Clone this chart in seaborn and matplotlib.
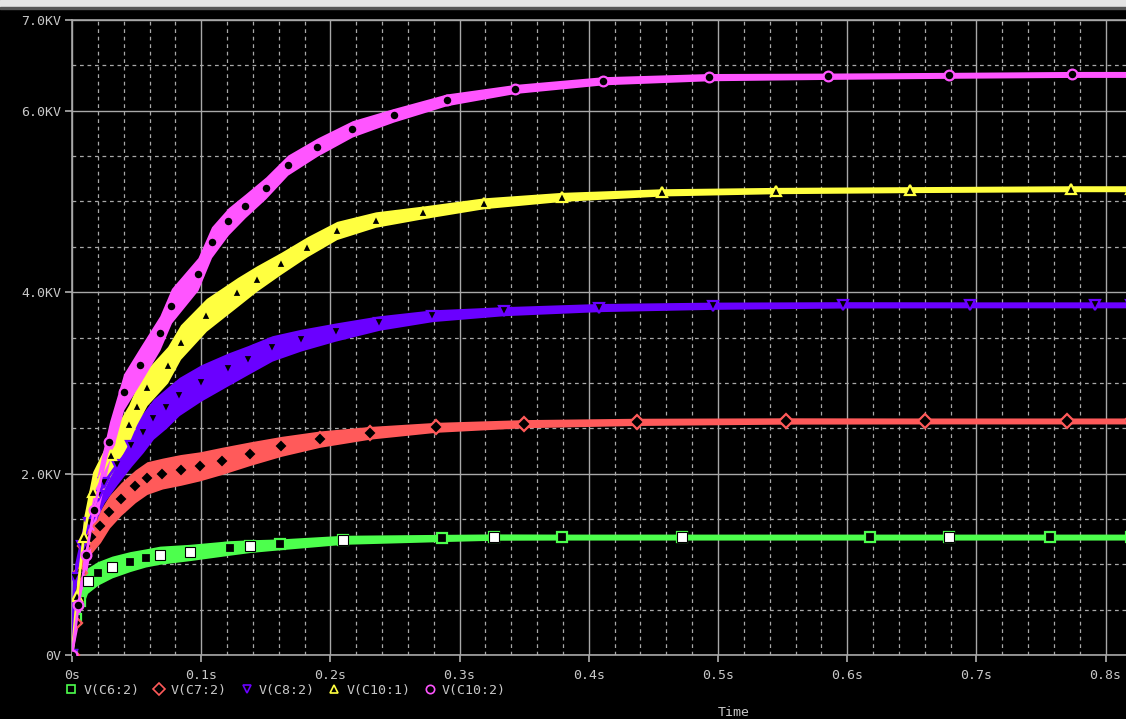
import numpy as np
import matplotlib
matplotlib.use("Agg")
import matplotlib.pyplot as plt
from matplotlib.lines import Line2D
from matplotlib.patches import Rectangle
import seaborn as sns

# --- data (time in s, voltage in kV) ---
labels = ["V(C6:2)", "V(C7:2)", "V(C8:2)", "V(C10:1)", "V(C10:2)"]

t_c6 = [0, 0.003, 0.006, 0.012, 0.02, 0.031, 0.045, 0.057, 0.068, 0.091, 0.122,
        0.138, 0.161, 0.21, 0.286, 0.327, 0.379, 0.472, 0.618, 0.679, 0.757, 0.82]
v_c6 = [0, 0.4, 0.6, 0.82, 0.9, 0.97, 1.03, 1.07, 1.1, 1.13, 1.18,
        1.2, 1.22, 1.27, 1.29, 1.3, 1.3, 1.3, 1.3, 1.3, 1.3, 1.3]
w_c6 = [0.02, 0.12, 0.14, 0.14, 0.13, 0.12, 0.11, 0.1, 0.1, 0.09, 0.08,
        0.07, 0.06, 0.05, 0.04, 0.035, 0.033, 0.033, 0.033, 0.033, 0.033, 0.033]
white_c6 = [0, 0, 0, 1, 0, 1, 0, 0, 1, 1, 0, 1, 0, 1, 0, 1, 0, 1, 0, 1, 0, 0]

t_c7 = [0, 0.002, 0.006, 0.01, 0.015, 0.022, 0.029, 0.038, 0.049, 0.058, 0.07,
        0.084, 0.099, 0.116, 0.138, 0.162, 0.192, 0.231, 0.282, 0.35, 0.437,
        0.553, 0.66, 0.77, 0.82]
v_c7 = [0, 0.35, 0.9, 1.2, 1.3, 1.42, 1.58, 1.72, 1.86, 1.95, 2.0,
        2.04, 2.08, 2.14, 2.22, 2.3, 2.38, 2.45, 2.51, 2.55, 2.57,
        2.58, 2.58, 2.58, 2.58]
w_c7 = [0.02, 0.1, 0.15, 0.17, 0.18, 0.18, 0.18, 0.18, 0.18, 0.18, 0.17,
        0.17, 0.16, 0.15, 0.13, 0.11, 0.09, 0.07, 0.055, 0.045, 0.04,
        0.035, 0.033, 0.033, 0.033]

t_c8 = [0, 0.002, 0.008, 0.013, 0.02, 0.025, 0.035, 0.046, 0.055, 0.063, 0.073,
        0.083, 0.1, 0.121, 0.136, 0.155, 0.177, 0.204, 0.238, 0.279, 0.334,
        0.408, 0.496, 0.597, 0.695, 0.792, 0.82]
v_c8 = [0, 0.85, 1.2, 1.45, 1.75, 1.9, 2.1, 2.3, 2.45, 2.6, 2.72,
        2.85, 3.0, 3.15, 3.25, 3.38, 3.47, 3.56, 3.66, 3.74, 3.79,
        3.83, 3.85, 3.86, 3.86, 3.86, 3.86]
w_c8 = [0.02, 0.15, 0.2, 0.22, 0.22, 0.22, 0.22, 0.22, 0.22, 0.22, 0.22,
        0.21, 0.2, 0.18, 0.16, 0.14, 0.12, 0.1, 0.08, 0.065, 0.05,
        0.045, 0.04, 0.035, 0.033, 0.033, 0.033]

t_c10a = [0, 0.004, 0.009, 0.016, 0.03, 0.044, 0.05, 0.058, 0.074, 0.084, 0.104,
          0.128, 0.143, 0.162, 0.182, 0.205, 0.235, 0.272, 0.319, 0.379, 0.457,
          0.545, 0.649, 0.773, 0.82]
v_c10a = [0, 0.65, 1.3, 1.8, 2.2, 2.55, 2.75, 2.95, 3.2, 3.45, 3.75,
          4.0, 4.15, 4.32, 4.5, 4.68, 4.8, 4.88, 4.98, 5.05, 5.1,
          5.12, 5.13, 5.14, 5.14]
w_c10a = [0.02, 0.2, 0.22, 0.22, 0.22, 0.21, 0.21, 0.2, 0.2, 0.19, 0.18,
          0.16, 0.14, 0.12, 0.11, 0.1, 0.085, 0.07, 0.06, 0.05, 0.04,
          0.035, 0.033, 0.033, 0.033]

t_c10b = [0, 0.005, 0.011, 0.017, 0.029, 0.04, 0.053, 0.068, 0.077, 0.0975, 0.108,
          0.121, 0.134, 0.15, 0.167, 0.19, 0.217, 0.249, 0.29, 0.343, 0.411,
          0.493, 0.585, 0.679, 0.774, 0.82]
v_c10b = [0, 0.55, 1.1, 1.6, 2.35, 2.9, 3.2, 3.55, 3.85, 4.2, 4.55,
          4.78, 4.95, 5.15, 5.4, 5.6, 5.8, 5.95, 6.12, 6.24, 6.33,
          6.37, 6.38, 6.39, 6.40, 6.40]
w_c10b = [0.02, 0.2, 0.22, 0.22, 0.22, 0.2, 0.2, 0.19, 0.19, 0.18, 0.17,
          0.15, 0.13, 0.12, 0.11, 0.1, 0.09, 0.075, 0.065, 0.05, 0.045,
          0.04, 0.035, 0.033, 0.033, 0.033]

colors = ["#4dff4d", "#ff5a5a", "#6a00ff", "#ffff40", "#ff55ff"]
markers = ["s", "D", "v", "^", "o"]

x_ticks = [0, 0.1, 0.2, 0.3, 0.4, 0.5, 0.6, 0.7, 0.8]
x_ticklabels = ["0s", "0.1s", "0.2s", "0.3s", "0.4s", "0.5s", "0.6s", "0.7s", "0.8s"]
y_ticks = [0, 2, 4, 6, 7]
y_ticklabels = ["0V", "2.0KV", "4.0KV", "6.0KV", "7.0KV"]

GRID = "#a8a8a8"
TEXT = "#c8c8c8"

sns.set_theme(style="dark", rc={"axes.facecolor": "black", "figure.facecolor": "black"})
plt.rcParams["font.family"] = ["DejaVu Sans Mono"]

fig = plt.figure(figsize=(11.26, 7.19), dpi=100)
ax = fig.add_axes([72 / 1126, 1 - 655 / 719, 1 - 72 / 1126, 635 / 719])
ax.set_facecolor("black")

# window strip at the very top
fig.patches.append(Rectangle((0, 1 - 7 / 719), 1, 7 / 719, transform=fig.transFigure,
                             color="#e4e4e4", zorder=0))
fig.patches.append(Rectangle((0, 1 - 9 / 719), 1, 2 / 719, transform=fig.transFigure,
                             color="#555555", zorder=0))

series = [
    (t_c6, v_c6, w_c6),
    (t_c7, v_c7, w_c7),
    (t_c8, v_c8, w_c8),
    (t_c10a, v_c10a, w_c10a),
    (t_c10b, v_c10b, w_c10b),
]

for (t, v, w), c, m in zip(series, colors, markers):
    t = np.array(t)
    v = np.array(v)
    w = np.array(w)
    ax.fill_between(t, v - w, v + w, color=c, lw=0, zorder=3)
    sns.lineplot(x=t, y=v, ax=ax, color=c, lw=2, zorder=4, marker=m,
                 markersize=7, markerfacecolor="black", markeredgecolor=c,
                 markeredgewidth=1.6, estimator=None, sort=False)

# white squares on V(C6:2)
tw = np.array(t_c6)[np.array(white_c6) == 1]
vw = np.array(v_c6)[np.array(white_c6) == 1]
ax.plot(tw, vw, ls="none", marker="s", markersize=7.5, markerfacecolor="white",
        markeredgecolor="black", markeredgewidth=0.8, zorder=5)

ax.set_xlim(0, 0.8158)
ax.set_ylim(0, 7)
ax.set_xticks(x_ticks)
ax.set_xticklabels(x_ticklabels)
ax.set_yticks(y_ticks)
ax.set_yticklabels(y_ticklabels)
ax.set_xticks(np.arange(0.02, 0.82, 0.02), minor=True)
ax.set_yticks(np.arange(0.5, 7.0, 0.5), minor=True)

ax.grid(which="major", color=GRID, lw=1.0, ls="-", zorder=1)
ax.grid(which="minor", color=GRID, lw=0.9, ls=(0, (3, 3)), zorder=1)
ax.set_axisbelow(True)

ax.tick_params(which="major", length=5, color=GRID, labelcolor=TEXT,
               labelsize=9.5, pad=3, bottom=True, left=True)
ax.tick_params(which="minor", length=0)
ax.tick_params(axis="x", pad=5)

for side in ["left", "bottom", "top"]:
    ax.spines[side].set_color(GRID)
    ax.spines[side].set_linewidth(1.2)
ax.spines["right"].set_visible(False)
ax.set_xlabel("")
ax.set_ylabel("")

handles = [Line2D([], [], ls="none", marker=m, markersize=6, markerfacecolor="none",
                  markeredgecolor=c, markeredgewidth=1.2)
           for c, m in zip(colors, markers)]
fig.legend(handles, labels, loc="upper left", bbox_to_anchor=(66 / 1126, 1 - 684 / 719),
           ncol=5, frameon=False, fontsize=9.5, labelcolor=TEXT, handlelength=0.8,
           handletextpad=0.5, columnspacing=1.1, borderaxespad=0, borderpad=0)

fig.text(718 / 1126, 1 - 706 / 719, "Time", color=TEXT, fontsize=9.5, va="top", ha="left")

fig.savefig("out.png", dpi=100, facecolor="black")
